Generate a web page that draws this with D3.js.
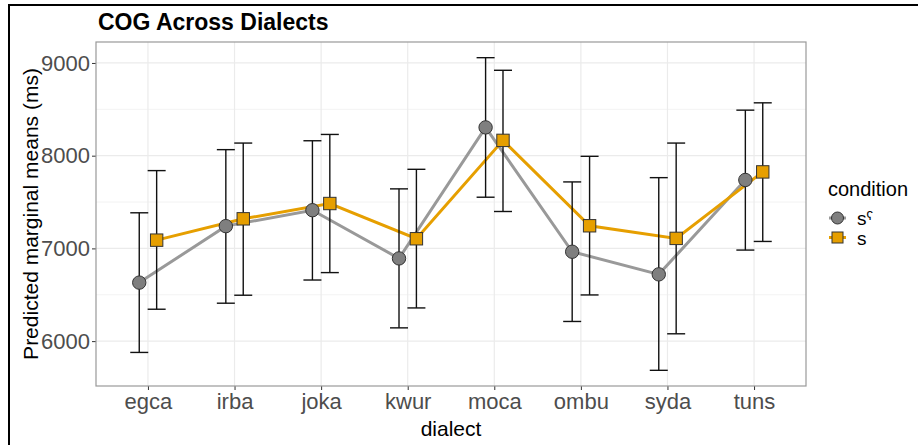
<!DOCTYPE html>
<html>
<head>
<meta charset="utf-8">
<script src="https://cdn.jsdelivr.net/npm/d3@7"></script>
<style>
  body { margin: 0; background: #fff; }
  text { font-family: "Liberation Sans", Arial, sans-serif; }
</style>
</head>
<body>
<script>
const dialects = ['egca', 'irba', 'joka', 'kwur', 'moca', 'ombu', 'syda', 'tuns'];

// condition sˤ (grey circles)
const emphMean = [6631, 7240, 7412, 6892, 8305, 6964, 6720, 7738];
const emphLow  = [5878, 6409, 6659, 6143, 7552, 6212, 5685, 6982];
const emphHigh = [7384, 8065, 8161, 7642, 9057, 7717, 7763, 8491];

// condition s (orange squares)
const plainMean = [7089, 7319, 7484, 7104, 8165, 7244, 7108, 7825];
const plainLow  = [6344, 6495, 6739, 6358, 7398, 6498, 6079, 7075];
const plainHigh = [7839, 8136, 8229, 7853, 8921, 7993, 8136, 8570];

const yTicks = [6000, 7000, 8000, 9000];
const yMinor = [6500, 7500, 8500];

const W = 918, H = 445;
const m = { left: 96, right: 112, top: 42, bottom: 59 };

const svg = d3.select('body').append('svg')
  .attr('width', W)
  .attr('height', H);

// outer frame (top + left)
svg.append('line').attr('x1', 8).attr('x2', W).attr('y1', 5).attr('y2', 5)
  .attr('stroke', '#000').attr('stroke-width', 2);
svg.append('line').attr('x1', 9).attr('x2', 9).attr('y1', 4).attr('y2', H)
  .attr('stroke', '#000').attr('stroke-width', 2);

const pw = W - m.left - m.right;
const ph = H - m.top - m.bottom;

const x = d3.scalePoint().domain(dialects).range([0, pw]).padding(0.6);
const y = d3.scaleLinear().domain([5516, 9226]).range([ph, 0]);
const dodge = 8.7;

const g = svg.append('g').attr('transform', `translate(${m.left},${m.top})`);

// grid
g.selectAll('.minor').data(yMinor).enter().append('line')
  .attr('x1', 0).attr('x2', pw)
  .attr('y1', d => y(d)).attr('y2', d => y(d))
  .attr('stroke', '#ebebeb').attr('stroke-width', 0.6);
g.selectAll('.major').data(yTicks).enter().append('line')
  .attr('x1', 0).attr('x2', pw)
  .attr('y1', d => y(d)).attr('y2', d => y(d))
  .attr('stroke', '#ebebeb').attr('stroke-width', 1.2);
g.selectAll('.vgrid').data(dialects).enter().append('line')
  .attr('x1', d => x(d)).attr('x2', d => x(d))
  .attr('y1', 0).attr('y2', ph)
  .attr('stroke', '#ebebeb').attr('stroke-width', 1.2);

// axes
const xAxis = g.append('g').attr('transform', `translate(0,${ph})`)
  .call(d3.axisBottom(x).tickSize(4).tickPadding(3));
const yAxis = g.append('g')
  .call(d3.axisLeft(y).tickValues(yTicks).tickFormat(d3.format('d'))
    .tickSize(4).tickPadding(2));
[xAxis, yAxis].forEach(a => {
  a.select('.domain').remove();
  a.selectAll('line').attr('stroke', '#333').attr('stroke-width', 1);
  a.selectAll('text').attr('fill', '#4d4d4d').style('font-size', '22px');
});

// panel border
g.append('rect').attr('width', pw).attr('height', ph)
  .attr('fill', 'none').attr('stroke', '#999').attr('stroke-width', 1.2);

const series = [
  { name: 'sˤ', mean: emphMean, low: emphLow, high: emphHigh, off: -dodge,
    line: '#999999', fill: '#7f7f7f', shape: 'circle' },
  { name: 's', mean: plainMean, low: plainLow, high: plainHigh, off: dodge,
    line: '#E69F00', fill: '#E69F00', shape: 'square' }
];

const lineGen = d3.line().x(d => d[0]).y(d => d[1]);

series.forEach(s => {
  const pts = dialects.map((d, i) => [x(d) + s.off, y(s.mean[i])]);
  g.append('path').datum(pts)
    .attr('d', lineGen)
    .attr('fill', 'none')
    .attr('stroke', s.line)
    .attr('stroke-width', 3);
});

// error bars
series.forEach(s => {
  const eb = g.append('g');
  dialects.forEach((d, i) => {
    const cx = x(d) + s.off;
    eb.append('line').attr('x1', cx).attr('x2', cx)
      .attr('y1', y(s.low[i])).attr('y2', y(s.high[i]));
    eb.append('line').attr('x1', cx - 9).attr('x2', cx + 9)
      .attr('y1', y(s.low[i])).attr('y2', y(s.low[i]));
    eb.append('line').attr('x1', cx - 9).attr('x2', cx + 9)
      .attr('y1', y(s.high[i])).attr('y2', y(s.high[i]));
  });
  eb.selectAll('line').attr('stroke', '#111').attr('stroke-width', 1.4);
});

function drawPoint(sel, shape, cx, cy, fill, r) {
  if (shape === 'circle') {
    sel.append('circle').attr('cx', cx).attr('cy', cy).attr('r', r)
      .attr('fill', fill).attr('stroke', '#333').attr('stroke-width', 1);
  } else {
    sel.append('rect').attr('x', cx - r + 0.5).attr('y', cy - r + 0.5)
      .attr('width', 2 * r - 1).attr('height', 2 * r - 1)
      .attr('fill', fill).attr('stroke', '#333').attr('stroke-width', 1);
  }
}

series.forEach(s => {
  dialects.forEach((d, i) => {
    drawPoint(g, s.shape, x(d) + s.off, y(s.mean[i]), s.fill, 6.7);
  });
});

// titles
svg.append('text').attr('x', 98).attr('y', 30)
  .text('COG Across Dialects')
  .style('font-size', '23px').style('font-weight', 'bold').attr('fill', '#000');

svg.append('text').attr('x', m.left + pw / 2).attr('y', 436)
  .attr('text-anchor', 'middle').text('dialect')
  .style('font-size', '21px').attr('fill', '#000');

svg.append('text')
  .attr('transform', `translate(38,${m.top + ph / 2}) rotate(-90)`)
  .attr('text-anchor', 'middle').text('Predicted marginal means (ms)')
  .style('font-size', '21px').attr('fill', '#000');

// legend
const lg = svg.append('g').attr('transform', 'translate(828,0)');
lg.append('text').attr('x', 0).attr('y', 196).text('condition')
  .style('font-size', '20px').attr('fill', '#000');
series.forEach((s, i) => {
  const ky = 218 + i * 19.5;
  lg.append('line').attr('x1', 1).attr('x2', 18).attr('y1', ky).attr('y2', ky)
    .attr('stroke', s.line).attr('stroke-width', 3);
  drawPoint(lg, s.shape, 9.5, ky, s.fill, 6);
  lg.append('text').attr('x', 29).attr('y', ky + 7).text(s.name)
    .style('font-size', '19px').attr('fill', '#000');
});
</script>
</body>
</html>
